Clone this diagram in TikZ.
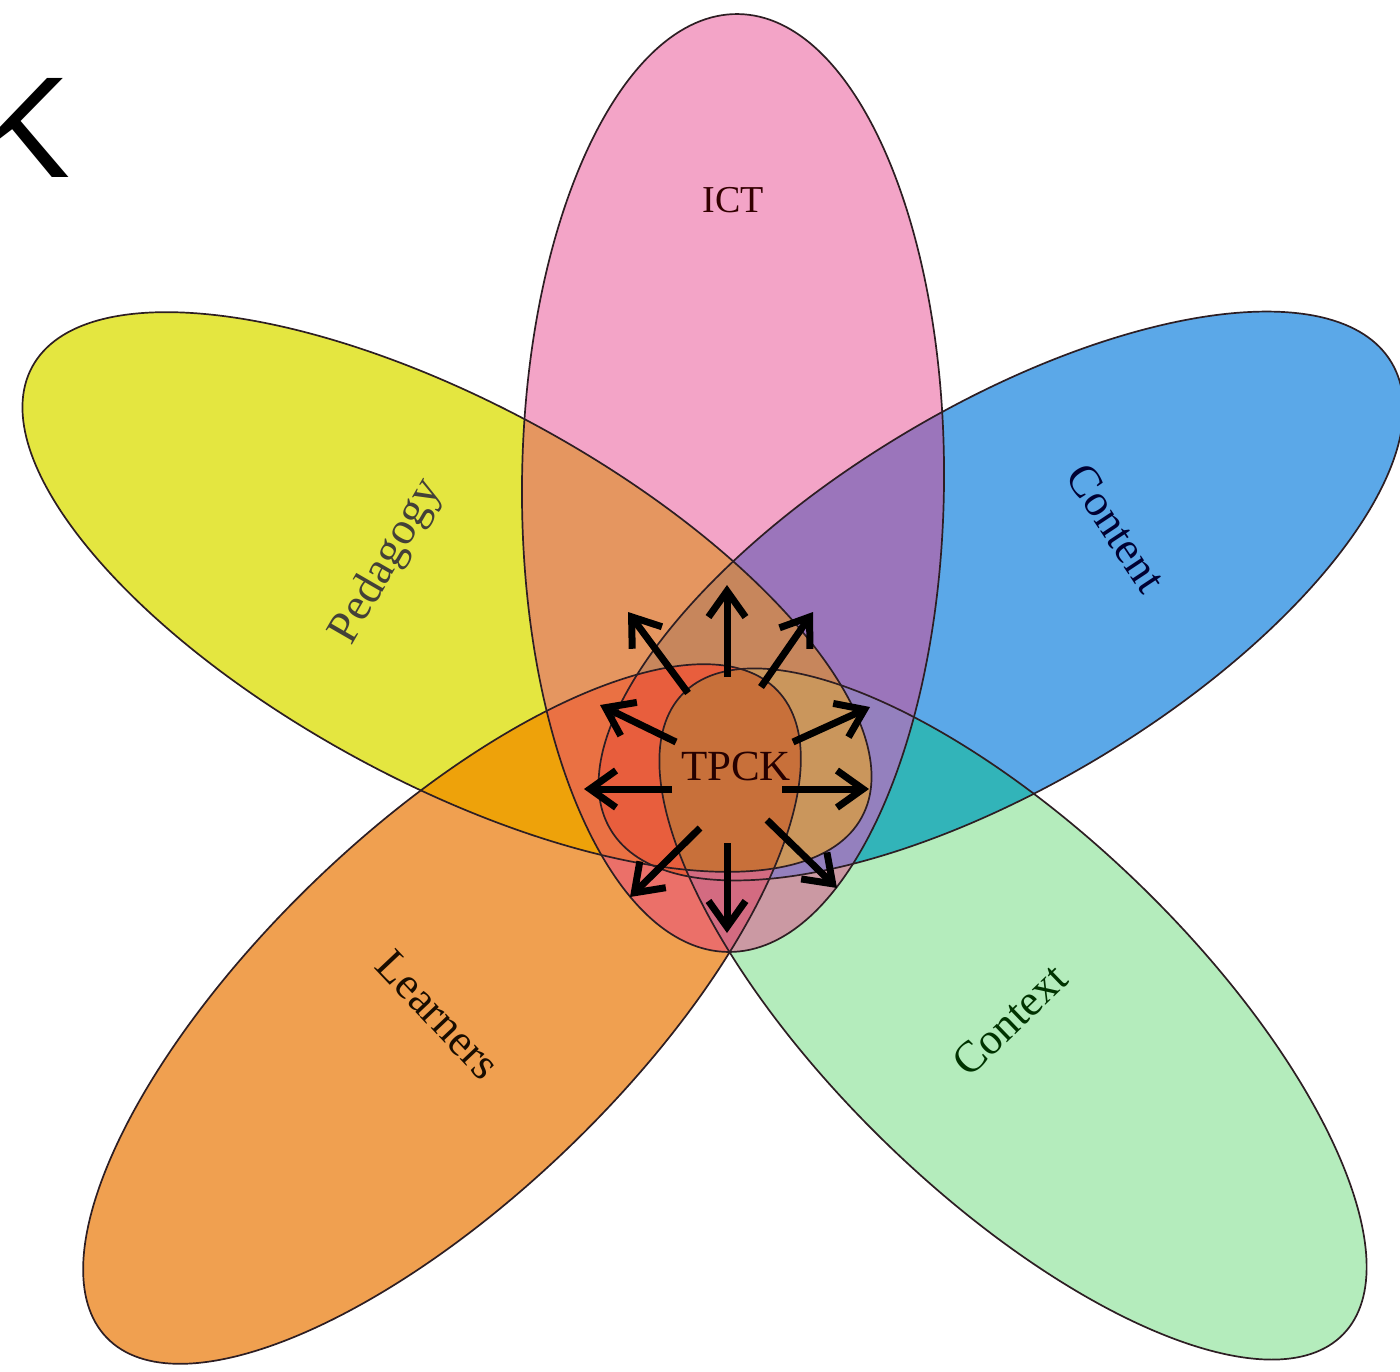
\documentclass[tikz,border=0pt]{standalone}
\usepackage{fontspec}
\setmainfont{Liberation Serif}
\newfontfamily\kfont{Liberation Sans}
\usetikzlibrary{arrows.meta}
\definecolor{cY}{RGB}{228,230,64}
\definecolor{cB}{RGB}{91,168,232}
\definecolor{cO}{RGB}{240,160,80}
\definecolor{cG}{RGB}{180,236,188}
\definecolor{cPbase}{RGB}{231,57,135}
\definecolor{cYB}{RGB}{173,201,56}
\definecolor{cYO}{RGB}{238,162,10}
\definecolor{cBG}{RGB}{50,180,185}
\definecolor{cYG}{RGB}{175,225,55}
\definecolor{cBO}{RGB}{233,127,0}
\definecolor{cOG}{RGB}{195,150,125}
\definecolor{cYBG}{RGB}{173,225,55}
\definecolor{cLav}{RGB}{148,128,190}
\definecolor{cTan}{RGB}{202,150,92}
\definecolor{cTP}{RGB}{200,112,58}
\definecolor{outl}{RGB}{45,30,35}
\begin{document}
\begin{tikzpicture}[x=1pt,y=-1pt,
  edge/.style={draw=outl,line width=1.7pt},
  ray/.style={line width=7pt,-{Straight Barb[length=26pt,width=37pt]}},
  lab/.style={inner sep=0pt}]
\useasboundingbox (0,0) rectangle (1400,1371);
\fill[white] (0,0) rectangle (1400,1371);
\def\eP{(733,483) ellipse [x radius=469pt, y radius=211pt, rotate=89.4]}
\def\eY{(447,592) ellipse [x radius=472pt, y radius=189pt, rotate=-28.5]}
\def\eB{(1001,596) ellipse [x radius=455pt, y radius=189pt, rotate=30.9]}
\def\eO{(442,1014) ellipse [x radius=466pt, y radius=184pt, rotate=44]}
\def\eG{(1013,1014) ellipse [x radius=460pt, y radius=181pt, rotate=-44.1]}
% single fills
\fill[cB] \eB; \fill[cY] \eY; \fill[cG] \eG; \fill[cO] \eO;
% pairs
\begin{scope}\clip \eY; \fill[cYB] \eB; \end{scope}
\begin{scope}\clip \eY; \fill[cYO] \eO; \end{scope}
\begin{scope}\clip \eB; \fill[cBG] \eG; \end{scope}
\begin{scope}\clip \eY; \fill[cYG] \eG; \end{scope}
\begin{scope}\clip \eB; \fill[cBO] \eO; \end{scope}
\begin{scope}\clip \eO; \fill[cOG] \eG; \end{scope}
% triples
\begin{scope}\clip \eY; \clip \eB; \fill[cYBG] \eG; \end{scope}
\begin{scope}\clip \eY; \clip \eB; \fill[cBO] \eO; \end{scope}
% ICT on top, translucent
\fill[cPbase,fill opacity=0.46] \eP;
% regions inside ICT, outside Learners
\begin{scope}[even odd rule]
  \clip (0,0) rectangle (1400,1371) \eO;
  \begin{scope}\clip \eP; \clip \eB; \fill[cLav] \eG; \end{scope}
  \begin{scope}\clip \eP; \clip \eB; \clip \eY; \fill[cTan] \eG; \end{scope}
\end{scope}
% core
\begin{scope}\clip \eY; \clip \eO; \clip \eG; \fill[cTP] \eP; \end{scope}
% outlines
\draw[edge] \eY; \draw[edge] \eB; \draw[edge] \eO; \draw[edge] \eG; \draw[edge] \eP;
% arrows
\coordinate (s1) at (727,677); \coordinate (t1) at (727,585);
\coordinate (s2) at (688,693); \coordinate (t2) at (628,612);
\coordinate (s3) at (761,687); \coordinate (t3) at (813,612);
\coordinate (s4) at (676,742); \coordinate (t4) at (600,705);
\coordinate (s5) at (793,742); \coordinate (t5) at (870,707);
\coordinate (s6) at (672,789); \coordinate (t6) at (584,789);
\coordinate (s7) at (782,789); \coordinate (t7) at (869,789);
\coordinate (s8) at (700,828); \coordinate (t8) at (630,897);
\coordinate (s9) at (727,843); \coordinate (t9) at (727,933);
\coordinate (s10) at (767,820); \coordinate (t10) at (837,888);
\foreach \i in {1,...,10} \draw[ray] (s\i) -- (t\i);
% labels
\node[lab,text=black!80!red] (ict) at (733,200) {\fontsize{38}{40}\selectfont ICT};
\node[lab,rotate=60,text=black!85!yellow] (ped) at (387,562) {\fontsize{46}{48}\selectfont Pedagogy};
\node[lab,rotate=-56.5,text=black!80!blue] (con) at (1116,528) {\fontsize{45}{47}\selectfont Content};
\node[lab,rotate=-46.7,text=black!90!orange] (lea) at (438,1015) {\fontsize{45}{47}\selectfont Learners};
\node[lab,rotate=44,text=black!80!green] (ctx) at (1010,1020) {\fontsize{44}{46}\selectfont Context};
\node[lab,text=black!85!red] (tpck) at (736,766) {\fontsize{43}{45}\selectfont TPCK};
\node[anchor=base west,inner sep=0pt] (k) at (-26,177) {\kfont\fontsize{144}{144}\selectfont K};
\end{tikzpicture}
\end{document}
